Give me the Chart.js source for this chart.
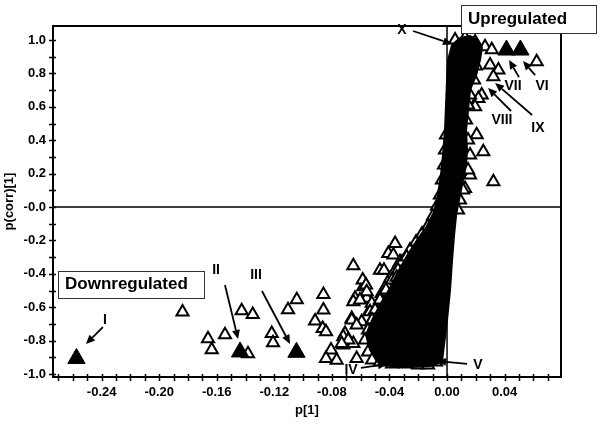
<!DOCTYPE html>
<html>
<head>
<meta charset="utf-8">
<script src="https://cdn.jsdelivr.net/npm/chart.js@4/dist/chart.umd.min.js"></script>
<style>
  html, body { margin: 0; padding: 0; background: #fff; }
  #wrap { width: 602px; height: 429px; position: relative; }
</style>
</head>
<body>
<div id="wrap"><canvas id="c" width="602" height="429"></canvas></div>
<script>
// ---- tick values ----
const xTickValues = [-0.27,-0.26,-0.25,-0.24,-0.23,-0.22,-0.21,-0.20,-0.19,-0.18,-0.17,-0.16,-0.15,-0.14,-0.13,-0.12,-0.11,-0.10,-0.09,-0.08,-0.07,-0.06,-0.05,-0.04,-0.03,-0.02,-0.01,0.00,0.01,0.02,0.03,0.04,0.05,0.06,0.07];
const xLabelValues = [-0.24,-0.20,-0.16,-0.12,-0.08,-0.04,0.00,0.04];
const yTickValues = [-1.0,-0.9,-0.8,-0.7,-0.6,-0.5,-0.4,-0.3,-0.2,-0.1,0.0,0.1,0.2,0.3,0.4,0.5,0.6,0.7,0.8,0.9,1.0];
const yLabelValues = [-1.0,-0.8,-0.6,-0.4,-0.2,0.0,0.2,0.4,0.6,0.8,1.0];

// ---- highlighted (filled) variables: I, II, III, VII, VI ----
const filledX = [-0.2575,-0.1438,-0.1046,0.0413,0.0510];
const filledY = [-0.907,-0.868,-0.870,0.940,0.940];

// ---- scattered open-triangle variables ----
const openX = [-0.1838,-0.1661,-0.1635,-0.1543,-0.1427,-0.1350,-0.1218,-0.1209,-0.1105,-0.1044,-0.1383,
  -0.0859,-0.0859,-0.0917,-0.0864,-0.0841,-0.0806,-0.0841,-0.0767,-0.0709,-0.0721,-0.0639,-0.0662,-0.0582,
  -0.0558,-0.0535,-0.0593,-0.0628,-0.0651,-0.0454,-0.0651,-0.0466,-0.0438,-0.0361,-0.0408,-0.0373,-0.0586,
  -0.0563,-0.0558,-0.0651,-0.0605,-0.0662,-0.0628,-0.0721,-0.0686,-0.0732,-0.0523,-0.0535,-0.0466,-0.0489,
  -0.0443,-0.0419,-0.0396,-0.0373,-0.0327,-0.0304,
  0.0264,0.0311,0.0299,0.0357,0.0322,0.0623,0.0241,0.0218,0.0195,0.0252,0.0160,0.0322,0.0125,0.0206];
const openY = [-0.629,-0.789,-0.855,-0.765,-0.621,-0.643,-0.757,-0.813,-0.615,-0.555,-0.879,
  -0.524,-0.617,-0.683,-0.727,-0.747,-0.856,-0.907,-0.917,-0.757,-0.827,-0.547,-0.667,-0.478,
  -0.547,-0.617,-0.687,-0.907,-0.817,-0.518,-0.352,-0.378,-0.378,-0.218,-0.278,-0.288,-0.437,
  -0.467,-0.507,-0.567,-0.557,-0.677,-0.707,-0.777,-0.797,-0.817,-0.577,-0.627,-0.567,-0.627,
  -0.507,-0.467,-0.428,-0.398,-0.328,-0.348,
  0.960,0.942,0.850,0.820,0.780,0.870,0.671,0.650,0.600,0.331,0.192,0.151,0.111,0.433];

// ---- variables along the edge of the dense cluster ----
const edgeX = [-0.0313,-0.0341,-0.0382,-0.0424,-0.0466,-0.0500,-0.0521,-0.0549,-0.0570,-0.0549,-0.0521,
  -0.0466,-0.0382,-0.0292,-0.0202,-0.0132,-0.0076,-0.0257,-0.0215,-0.0174,-0.0132,-0.0097,-0.0069,-0.0049,
  -0.0035,-0.0021,-0.0014,-0.0007,0.0160,0.0202,0.0188,0.0160,0.0146,0.0132,0.0146,0.0160,0.0146,0.0111,
  0.0090,0.0076,0.0056,0.0125,0.0195,-0.0410,-0.0438,-0.0479,-0.0280,-0.0350];
const edgeY = [-0.329,-0.377,-0.437,-0.497,-0.557,-0.617,-0.677,-0.737,-0.796,-0.868,-0.916,
  -0.928,-0.940,-0.940,-0.946,-0.946,-0.928,-0.257,-0.210,-0.162,-0.114,-0.054,0.006,0.072,
  0.162,0.251,0.341,0.431,0.880,0.844,0.760,0.671,0.611,0.521,0.401,0.311,0.222,0.102,
  0.042,-0.018,1.000,1.012,0.988,-0.567,-0.687,-0.807,-0.300,-0.420];

// ---- outline of the dense (overlapping) cluster of variables ----
const clusterX = [0.0090,0.0160,0.0215,0.0243,0.0229,0.0202,0.0160,0.0146,0.0132,0.0139,0.0132,0.0104,0.0083,
  0.0063,0.0049,0.0035,0.0021,0.0000,-0.0021,-0.0035,-0.0118,-0.0257,-0.0396,-0.0479,-0.0535,-0.0563,-0.0521,
  -0.0466,-0.0396,-0.0341,-0.0278,-0.0208,-0.0139,-0.0090,-0.0063,-0.0042,-0.0028,-0.0014,-0.0007,0.0000,
  0.0007,0.0035,0.0090];
const clusterY = [1.012,1.024,1.000,0.952,0.880,0.790,0.701,0.581,0.461,0.341,0.251,0.132,0.042,
  -0.048,-0.168,-0.317,-0.497,-0.677,-0.826,-0.928,-0.952,-0.958,-0.952,-0.928,-0.856,-0.766,-0.677,
  -0.587,-0.485,-0.389,-0.293,-0.198,-0.114,-0.030,0.072,0.192,0.311,0.461,0.611,0.760,
  0.880,0.970,1.012];

// ---- annotations (label position, arrow tail, arrow head) in data units ----
const annLabels = ['I','II','III','IV','V','X','VII','VI','VIII','IX'];
const annTextX = [-0.2377,-0.1605,-0.1327,-0.0667,0.0215,-0.0313,0.0459,0.0660,0.0382,0.0632];
const annTextY = [-0.677,-0.377,-0.407,-0.976,-0.946,1.060,0.725,0.725,0.521,0.473];
const annTailX = [-0.2391,-0.1543,-0.1286,-0.0598,0.0139,-0.0236,0.0500,0.0612,0.0445,0.0591];
const annTailY = [-0.719,-0.467,-0.503,-0.964,-0.940,1.054,0.778,0.790,0.575,0.551];
const annHeadX = [-0.2509,-0.1452,-0.1091,-0.0417,-0.0069,0.0035,0.0431,0.0528,0.0285,0.0334];
const annHeadY = [-0.820,-0.790,-0.820,-0.940,-0.922,0.976,0.880,0.874,0.713,0.743];

const zip = (xs, ys) => xs.map((x, i) => ({x: x, y: ys[i]}));
const FONT = '"Liberation Sans", Arial, Helvetica, sans-serif';

const near = (arr, v) => arr.find(a => Math.abs(a - v) < 1e-6);

const overlay = {
  id: 'overlay',
  beforeDatasetsDraw(chart) {
    const ctx = chart.ctx, a = chart.chartArea;
    const xs = chart.scales.x, ys = chart.scales.y;
    ctx.save();
    ctx.strokeStyle = '#000';
    ctx.lineWidth = 1.5;
    const y0 = ys.getPixelForValue(0), x0 = xs.getPixelForValue(0);
    ctx.beginPath();
    ctx.moveTo(a.left, y0); ctx.lineTo(a.right, y0);
    ctx.moveTo(x0, a.top); ctx.lineTo(x0, a.bottom);
    ctx.stroke();
    ctx.restore();
  },
  afterDatasetsDraw(chart) {
    const ctx = chart.ctx, a = chart.chartArea;
    const xs = chart.scales.x, ys = chart.scales.y;
    ctx.save();
    // frame
    ctx.strokeStyle = '#000';
    ctx.lineWidth = 2;
    ctx.strokeRect(a.left, a.top, a.right - a.left, a.bottom - a.top);
    // tick marks
    ctx.lineWidth = 1.5;
    ctx.beginPath();
    xTickValues.forEach(v => {
      const px = Math.round(xs.getPixelForValue(v)) + 0.5;
      ctx.moveTo(px, a.bottom - 3); ctx.lineTo(px, a.bottom + 4);
    });
    yTickValues.forEach(v => {
      const py = Math.round(ys.getPixelForValue(v)) + 0.5;
      ctx.moveTo(a.left - 4, py); ctx.lineTo(a.left + 3, py);
    });
    ctx.stroke();
    // arrows
    ctx.fillStyle = '#000';
    ctx.lineWidth = 1.8;
    annLabels.forEach((lab, i) => {
      const tx = xs.getPixelForValue(annTailX[i]), ty = ys.getPixelForValue(annTailY[i]);
      const hx = xs.getPixelForValue(annHeadX[i]), hy = ys.getPixelForValue(annHeadY[i]);
      const ang = Math.atan2(hy - ty, hx - tx);
      const L = 9, W = 4;
      const bx = hx - L * Math.cos(ang), by = hy - L * Math.sin(ang);
      ctx.beginPath();
      ctx.moveTo(tx, ty); ctx.lineTo(bx, by);
      ctx.stroke();
      ctx.beginPath();
      ctx.moveTo(hx, hy);
      ctx.lineTo(bx + W * Math.sin(ang), by - W * Math.cos(ang));
      ctx.lineTo(bx - W * Math.sin(ang), by + W * Math.cos(ang));
      ctx.closePath();
      ctx.fill();
      ctx.font = 'bold 14px ' + FONT;
      ctx.textAlign = 'center';
      ctx.textBaseline = 'middle';
      ctx.fillText(lab, xs.getPixelForValue(annTextX[i]), ys.getPixelForValue(annTextY[i]));
    });
    // text boxes
    const box = (x, y, w, h, text) => {
      ctx.fillStyle = '#fff';
      ctx.fillRect(x, y, w, h);
      ctx.strokeStyle = '#333';
      ctx.lineWidth = 1;
      ctx.strokeRect(x + 0.5, y + 0.5, w, h);
      ctx.fillStyle = '#000';
      ctx.font = 'bold 17px ' + FONT;
      ctx.textAlign = 'left';
      ctx.textBaseline = 'middle';
      ctx.fillText(text, x + 7, y + h / 2);
    };
    box(461, 5, 135, 28, 'Upregulated');
    box(58, 271, 146, 27, 'Downregulated');
    ctx.restore();
  }
};

new Chart(document.getElementById('c'), {
  type: 'scatter',
  data: {
    datasets: [
      {
        label: 'Highlighted',
        data: zip(filledX, filledY),
        pointStyle: 'triangle',
        pointRadius: 10,
        backgroundColor: '#000',
        borderColor: '#000',
        borderWidth: 1,
        order: 0
      },
      {
        label: 'Dense cluster',
        data: zip(clusterX, clusterY),
        showLine: true,
        fill: 'shape',
        tension: 0,
        pointRadius: 0,
        backgroundColor: '#000',
        borderColor: '#000',
        borderWidth: 2,
        order: 1
      },
      {
        label: 'Cluster edge',
        data: zip(edgeX, edgeY),
        pointStyle: 'triangle',
        pointRadius: 7,
        backgroundColor: '#fff',
        borderColor: '#000',
        borderWidth: 2,
        order: 2
      },
      {
        label: 'Variables',
        data: zip(openX, openY),
        pointStyle: 'triangle',
        pointRadius: 7,
        backgroundColor: '#fff',
        borderColor: '#000',
        borderWidth: 2,
        order: 3
      }
    ]
  },
  options: {
    responsive: false,
    animation: false,
    events: [],
    layout: { padding: { top: 26, right: 41, left: 0, bottom: 0 } },
    plugins: { legend: { display: false }, tooltip: { enabled: false } },
    scales: {
      x: {
        type: 'linear',
        min: -0.2738,
        max: 0.0792,
        grid: { display: false, drawTicks: false, tickLength: 0 },
        border: { display: false },
        afterBuildTicks: s => { s.ticks = xTickValues.map(v => ({value: v})); },
        afterFit: s => { s.height = 52; },
        ticks: {
          autoSkip: false, maxRotation: 0, padding: 8,
          color: '#000',
          font: { family: FONT, size: 13, weight: 'bold' },
          callback: v => { const t = near(xLabelValues, v); return t === undefined ? '' : t.toFixed(2); }
        },
        title: {
          display: true, text: 'p[1]', color: '#000',
          font: { family: FONT, size: 13, weight: 'bold' },
          padding: { top: 0, bottom: 11 }
        }
      },
      y: {
        type: 'linear',
        min: -1.018,
        max: 1.084,
        grid: { display: false, drawTicks: false, tickLength: 0 },
        border: { display: false },
        afterBuildTicks: s => { s.ticks = yTickValues.map(v => ({value: v})); },
        afterFit: s => { s.width = 53; },
        ticks: {
          autoSkip: false, padding: 7,
          color: '#000',
          font: { family: FONT, size: 13, weight: 'bold' },
          callback: v => { const t = near(yLabelValues, v); return t === undefined ? '' : (t === 0 ? '-0.0' : t.toFixed(1)); }
        },
        title: {
          display: true, text: 'p(corr)[1]', color: '#000',
          font: { family: FONT, size: 13, weight: 'bold' },
          padding: { top: 2, bottom: 0 }
        }
      }
    }
  },
  plugins: [overlay]
});
</script>
</body>
</html>
